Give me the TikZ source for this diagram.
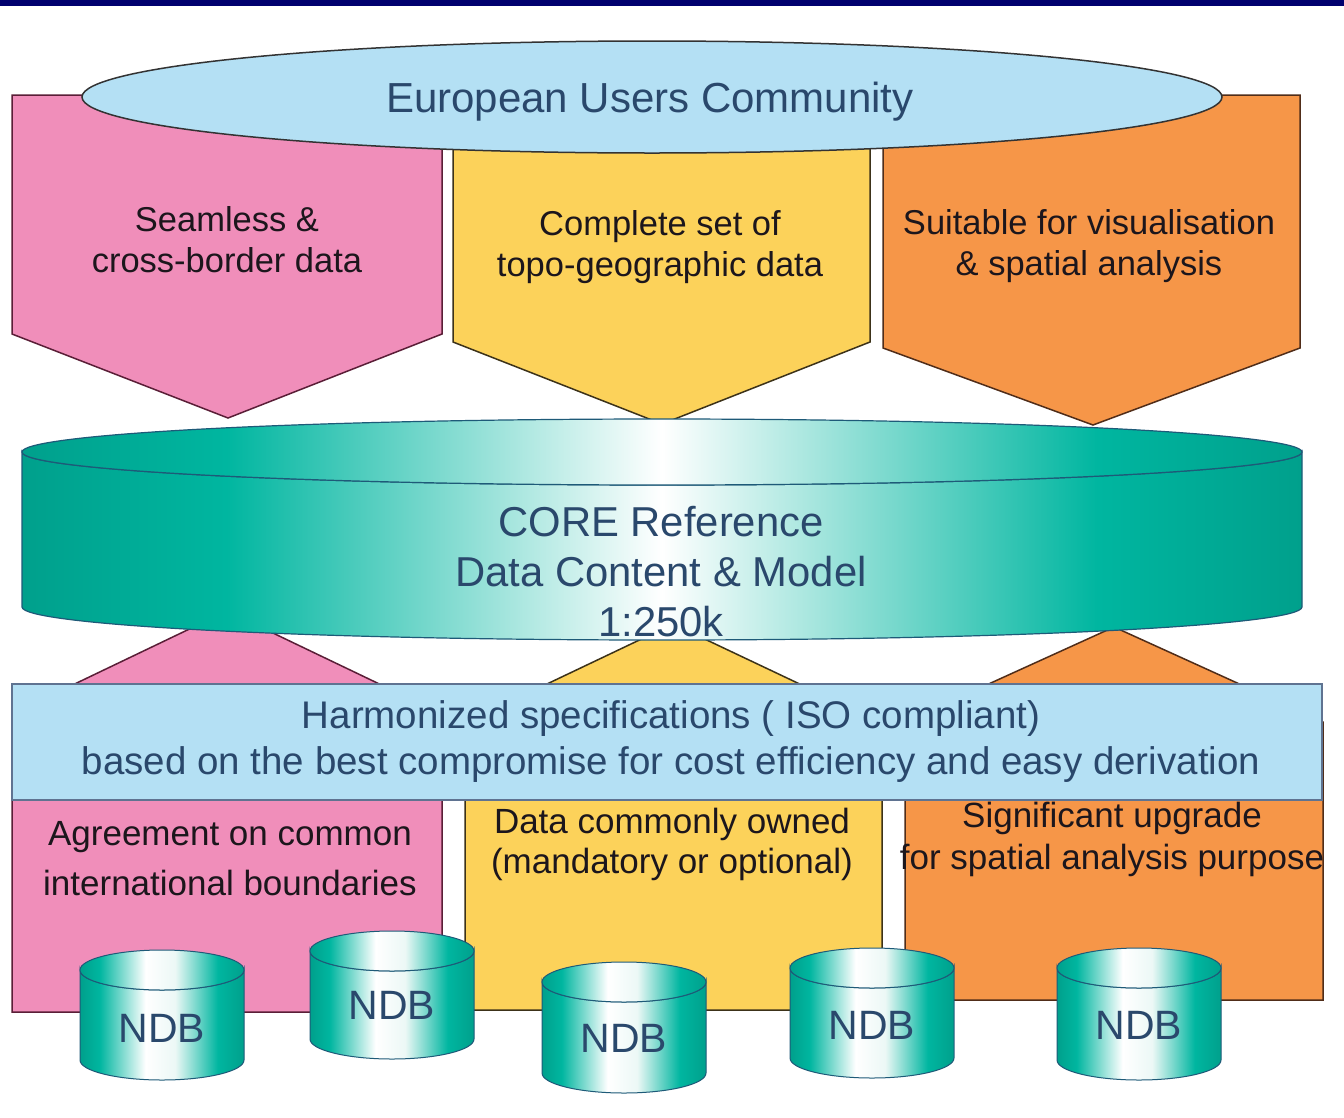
\documentclass[tikz,border=0pt]{standalone}
\usepackage{fontspec}
\setmainfont{Liberation Sans}
\definecolor{navybar}{RGB}{0,0,110}
\definecolor{pinkf}{RGB}{240,142,186}
\definecolor{pinkl}{RGB}{90,30,55}
\definecolor{yellowf}{RGB}{252,210,90}
\definecolor{yellowl}{RGB}{60,50,25}
\definecolor{orangef}{RGB}{246,150,72}
\definecolor{orangel}{RGB}{80,45,25}
\definecolor{skyf}{RGB}{180,224,244}
\definecolor{skyl}{RGB}{95,115,145}
\definecolor{tealA}{RGB}{0,160,140}
\definecolor{tealB}{RGB}{0,182,160}
\definecolor{tealW}{RGB}{236,248,246}
\definecolor{tealLine}{RGB}{30,90,120}
\definecolor{txtblue}{RGB}{42,72,108}
\definecolor{txtdark}{RGB}{28,22,28}
\pgfdeclarehorizontalshading{coreshade}{100bp}{color(0bp)=(tealA); color(25bp)=(tealA); color(33bp)=(tealB); color(50bp)=(white); color(67bp)=(tealB); color(75bp)=(tealA); color(100bp)=(tealA)}
\pgfdeclarehorizontalshading{ndbshade}{100bp}{color(0bp)=(tealA); color(25bp)=(tealA); color(31bp)=(tealB); color(45bp)=(white); color(54bp)=(tealW); color(67bp)=(tealB); color(75bp)=(tealA); color(100bp)=(tealA)}
\newcommand\ftop{\fontsize{42}{50}\selectfont}
\newcommand\fpent{\fontsize{34.5}{41}\selectfont}
\newcommand\fcore{\fontsize{41.8}{50}\selectfont}
\newcommand\fharm{\fontsize{38.5}{46}\selectfont}
\newcommand\fndb{\fontsize{41}{48}\selectfont}
\newcommand\ndbcyl[5]{%
  \path[shade, shading=ndbshade, draw=tealLine, line width=1pt]
    ({#2-82},#3) -- ({#2-82},#4) arc[start angle=180, end angle=0, x radius=82, y radius=20]
    -- ({#2+82},#3) arc[start angle=0, end angle=180, x radius=82, y radius=20] -- cycle;
  \path[shade, shading=ndbshade, draw=tealLine, line width=1pt] (#2,#3) ellipse[x radius=82, y radius=20];
  \node[lbl, font=\fndb, text=txtblue] (#1) at (#2,#5) {NDB};
}
\begin{document}
\begin{tikzpicture}[x=1pt, y=-1pt,
  lbl/.style={align=center, inner sep=0pt},
  pinkshape/.style={fill=pinkf, draw=pinkl, line width=1.5pt},
  yellowshape/.style={fill=yellowf, draw=yellowl, line width=1.5pt},
  orangeshape/.style={fill=orangef, draw=orangel, line width=1.5pt},
  skyshape/.style={fill=skyf, draw=skyl, line width=1.4pt}]
\useasboundingbox (0,0) rectangle (1344,1117);
\fill[white] (0,0) rectangle (1344,1117);
\fill[navybar] (0,0) rectangle (1344,6);

% lower house shapes
\path[pinkshape] (12,1012) -- (12,714) -- (227,611) -- (442,714) -- (442,1012) -- cycle;
\path[yellowshape] (465,1010) -- (465,723) -- (673,624) -- (882,723) -- (882,1010) -- cycle;
\path[orangeshape] (905,1000) -- (905,722) -- (1114,627) -- (1323,722) -- (1323,1000) -- cycle;

% top arrow shapes
\path[pinkshape] (12,95) -- (442,95) -- (442,334) -- (228,418) -- (12,334) -- cycle;
\path[yellowshape] (453,95) -- (870,95) -- (870,342) -- (662,424) -- (453,342) -- cycle;
\path[orangeshape] (883,95) -- (1300,95) -- (1300,348) -- (1093,425) -- (883,348) -- cycle;

\node[lbl, font=\fpent, text=txtdark] (seam) at (227,240) {Seamless \&\\cross-border data};
\node[lbl, font=\fpent, text=txtdark] (compl) at (660,247) {Complete set of\\topo-geographic data};
\node[lbl, font=\fpent, text=txtdark] (suit) at (1089,246) {Suitable for visualisation\\\& spatial analysis};

% users ellipse
\path[fill=skyf, draw=black!80, line width=1.5pt] (652,97) ellipse[x radius=570, y radius=56];
\node[lbl, font=\ftop, text=txtblue] (euc) at (650,102) {European Users Community};

% core cylinder
\path[shade, shading=coreshade, draw=tealLine, line width=1.2pt]
  (22,452) -- (22,607) arc[start angle=180, end angle=0, x radius=640, y radius=33]
  -- (1302,452) arc[start angle=0, end angle=180, x radius=640, y radius=33] -- cycle;
\path[shade, shading=coreshade, draw=tealLine, line width=1.2pt] (662,452) ellipse[x radius=640, y radius=33];
\node[lbl, font=\fcore, text=txtblue] (core) at (661,572) {CORE Reference\\Data Content \& Model\\1:250k};

% harmonized band
\path[skyshape] (12,684) rectangle (1322,800);
\node[lbl, font=\fharm, text=txtblue] (harm) at (671,742) {Harmonized specifications ( ISO compliant)\\based on the best compromise for cost efficiency and easy derivation};

% lower texts
\node[lbl, font=\fontsize{35}{50}\selectfont, text=txtdark] (agree) at (230,859) {Agreement on common\\international boundaries};
\node[lbl, font=\fontsize{35}{40}\selectfont, text=txtdark] (owned) at (672,844) {Data commonly owned\\(mandatory or optional)};
\node[lbl, font=\fontsize{35}{42}\selectfont, text=txtdark] (upgr) at (1112,839) {Significant upgrade\\for spatial analysis purpose};

% NDB cylinders
\ndbcyl{ndba}{162}{970}{1060}{1028}
\ndbcyl{ndbb}{392}{951}{1039}{1005}
\ndbcyl{ndbc}{624}{982}{1073}{1038}
\ndbcyl{ndbd}{872}{968}{1058}{1025}
\ndbcyl{ndbe}{1139}{968}{1060}{1025}
\end{tikzpicture}
\end{document}
